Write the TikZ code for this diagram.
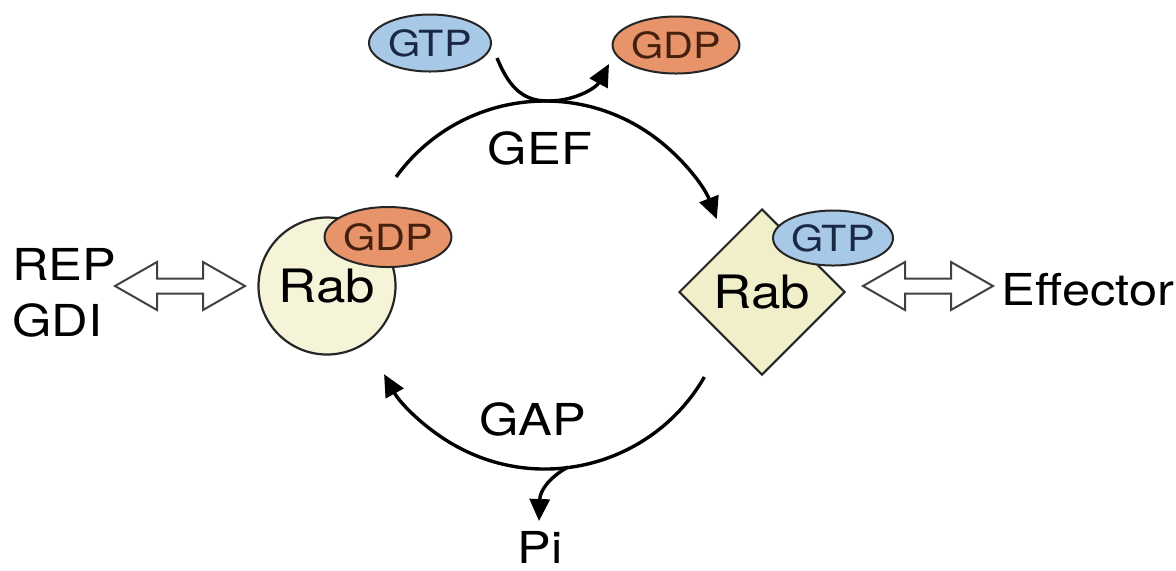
\documentclass[tikz,border=0pt]{standalone}
\usepackage{fontspec}
\setmainfont{TeX Gyre Heros}[FakeStretch=1.15]
\usetikzlibrary{shapes.geometric,arrows.meta}
\definecolor{gtpblue}{HTML}{A8C8E8}
\definecolor{gdporange}{HTML}{E8946A}
\definecolor{rabfill}{HTML}{F6F4D8}
\definecolor{rabfillb}{HTML}{F1EFCA}
\definecolor{gtptext}{HTML}{1A2845}
\definecolor{gdptext}{HTML}{45200F}
\begin{document}
\begin{tikzpicture}[x=0.5pt,y=-0.5pt,
  big/.style={font=\fontsize{22pt}{28pt}\selectfont, inner sep=0pt},
  nuc/.style={ellipse, draw=black!85, line width=1pt, inner sep=0pt,
    minimum width=61pt, minimum height=28.5pt, font=\fontsize{18pt}{20pt}\selectfont},
  flow/.style={line width=1.7pt, -{Triangle[length=11pt,width=10pt]}},
  hollow/.style={draw=black!75, line width=1pt, fill=white, line join=miter},
  harrow/.pic={\draw[hollow] (-65,0) -- (-23,-24) -- (-23,-7.5) -- (23,-7.5) -- (23,-24)
     -- (65,0) -- (23,24) -- (23,7.5) -- (-23,7.5) -- (-23,24) -- cycle;}
]
\useasboundingbox[fill=white] (0,0) rectangle (1176,570);

% top nucleotides
\node[nuc, fill=gtpblue, text=gtptext] (gtpA) at (430,43) {GTP};
\node[nuc, fill=gdporange, text=gdptext] (gdpA) at (676,45) {GDP};

% Rab-GDP (left)
\node[circle, draw=black!85, line width=1.1pt, fill=rabfill, minimum size=68.5pt,
  inner sep=0pt, font=\fontsize{23pt}{26pt}\selectfont] (rabL) at (327,286) {Rab};
\node[nuc, fill=gdporange, text=gdptext, minimum width=60pt, minimum height=30pt] (gdpL) at (388,237) {GDP};

% Rab-GTP (right)
\node[diamond, draw=black!85, line width=1pt, fill=rabfillb, minimum width=83pt,
  minimum height=83pt, inner sep=0pt, font=\fontsize{23pt}{26pt}\selectfont] (rabR) at (762,292) {Rab};
\node[nuc, fill=gtpblue, text=gtptext, minimum width=60pt, minimum height=27.5pt] (gtpR) at (833,238) {GTP};

% labels
\node[big, anchor=west, align=left] (rep) at (12,293) {REP\\GDI};
\node[big, anchor=west] (eff) at (1001,290) {Effector};
\node[big] (gef) at (540,148) {GEF};
\node[big] (gap) at (533,419) {GAP};
\node[big] (pi) at (540,547) {Pi};

% hollow double arrows
\pic at (180,286) {harrow};
\pic at (928,286) {harrow};

% cycle arcs
\coordinate (cyc) at (545,285);
\draw[flow] ([shift={(-144:184)}]cyc) arc[start angle=-144, end angle=-21, radius=184];
\draw[flow] ([shift={(30:184)}]cyc) arc[start angle=30, end angle=151, radius=184];

% GTP in, GDP out
\coordinate (gin) at (497,58);
\coordinate (gmid) at (548,101);
\coordinate (gout) at (609,64);
\draw[flow] (gin) .. controls (510,90) and (525,101) .. (gmid)
  .. controls (575,101) and (596,88) .. (gout);

% Pi release
\coordinate (pstart) at (568,467);
\coordinate (pend) at (539,521);
\draw[flow] (pstart) .. controls (550,477) and (540,490) .. (pend);
\end{tikzpicture}
\end{document}
